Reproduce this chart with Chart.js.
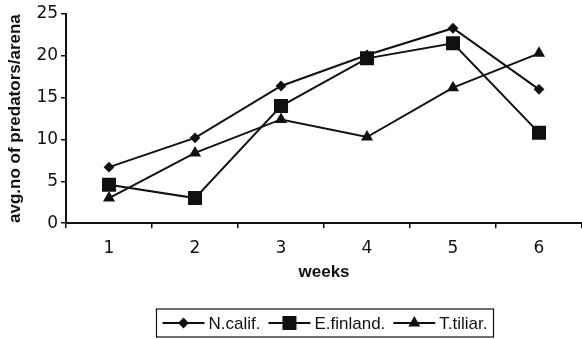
<!DOCTYPE html>
<html>
<head>
<meta charset="utf-8">
<script src="https://cdn.jsdelivr.net/npm/chart.js@4/dist/chart.umd.min.js"></script>
<style>
  html, body { margin: 0; padding: 0; background: #fff; }
  #wrap { width: 582px; height: 339px; }
</style>
</head>
<body>
<div id="wrap"><canvas id="predChart" width="582" height="339"></canvas></div>
<script>
// data
var weeks = ['1', '2', '3', '4', '5', '6'];
var nCalif = [6.7, 10.2, 16.4, 20.1, 23.3, 16.0];
var eFinland = [4.6, 3.0, 14.0, 19.7, 21.5, 10.8];
var tTiliar = [3.0, 8.4, 12.4, 10.3, 16.2, 20.3];
var yTicks = [0, 5, 10, 15, 20, 25];

var ink = '#111';
var tickFont = { family: '"DejaVu Sans", Verdana, sans-serif', size: 17 };
var titleFont = { family: '"Liberation Sans", Arial, sans-serif', size: 17, weight: 'bold' };

// legend in a box with line + marker samples, like the old excel chart
var boxLegend = {
  id: 'boxLegend',
  afterDraw: function(chart) {
    var ctx = chart.ctx;
    ctx.save();
    ctx.font = '17px "Liberation Sans", Arial, sans-serif';
    var lineLen = 42, gapText = 4, gapItem = 8, pad = 6;
    var items = chart.data.datasets.map(function(ds) {
      return { ds: ds, w: ctx.measureText(ds.label).width };
    });
    var total = pad * 2 + gapItem * (items.length - 1);
    items.forEach(function(it) { total += lineLen + gapText + it.w; });
    var left = 325 - total / 2;
    var top = chart.height - 30, h = 28;
    ctx.strokeStyle = ink;
    ctx.lineWidth = 1.2;
    ctx.strokeRect(left, top, total, h);
    var y = top + h / 2;
    var x = left + pad;
    ctx.textBaseline = 'middle';
    ctx.fillStyle = ink;
    items.forEach(function(it) {
      ctx.beginPath();
      ctx.lineWidth = 2;
      ctx.moveTo(x, y);
      ctx.lineTo(x + lineLen, y);
      ctx.stroke();
      Chart.helpers.drawPoint(ctx, {
        pointStyle: it.ds.pointStyle,
        radius: it.ds.pointRadius,
        rotation: 0,
        borderWidth: 1
      }, x + lineLen / 2, y);
      ctx.fillText(it.ds.label, x + lineLen + gapText, y + 1);
      x += lineLen + gapText + it.w + gapItem;
    });
    ctx.restore();
  }
};

function series(label, values, style, radius) {
  return {
    label: label,
    data: values,
    borderColor: ink,
    backgroundColor: ink,
    borderWidth: 2,
    pointStyle: style,
    pointRadius: radius,
    pointHoverRadius: radius,
    pointBackgroundColor: ink,
    pointBorderColor: ink,
    tension: 0,
    clip: false
  };
}

var ctx = document.getElementById('predChart').getContext('2d');
var predChart = new Chart(ctx, {
  type: 'line',
  data: {
    labels: weeks,
    datasets: [
      series('N.calif.', nCalif, 'rectRot', 4),
      series('E.finland.', eFinland, 'rect', 8.5),
      series('T.tiliar.', tTiliar, 'triangle', 5)
    ]
  },
  options: {
    responsive: false,
    animation: false,
    // no auto padding: the plot runs right up to the edge of the picture
    layout: { autoPadding: false, padding: { top: 14, right: 0, bottom: 56, left: 4 } },
    scales: {
      x: {
        offset: true,
        grid: { offset: true, drawOnChartArea: false, drawTicks: true, tickLength: 5, color: ink, lineWidth: 1.5 },
        border: { color: ink, width: 2 },
        ticks: { color: ink, font: tickFont, padding: 10, maxRotation: 0 },
        title: { display: true, text: 'weeks', color: ink, font: titleFont, padding: { top: -6, bottom: 0 } }
      },
      y: {
        min: 0,
        max: 25,
        afterBuildTicks: function(axis) {
          axis.ticks = yTicks.map(function(v) { return { value: v }; });
        },
        grid: { drawOnChartArea: false, drawTicks: true, tickLength: 5, color: ink, lineWidth: 1.5 },
        border: { color: ink, width: 2 },
        ticks: { color: ink, font: tickFont, padding: 3 },
        title: { display: true, text: 'avg.no of predators/arena', color: ink, font: titleFont, padding: { top: 1, bottom: 8 } }
      }
    },
    plugins: {
      legend: { display: false },
      tooltip: { enabled: false }
    }
  },
  plugins: [boxLegend]
});
</script>
</body>
</html>
